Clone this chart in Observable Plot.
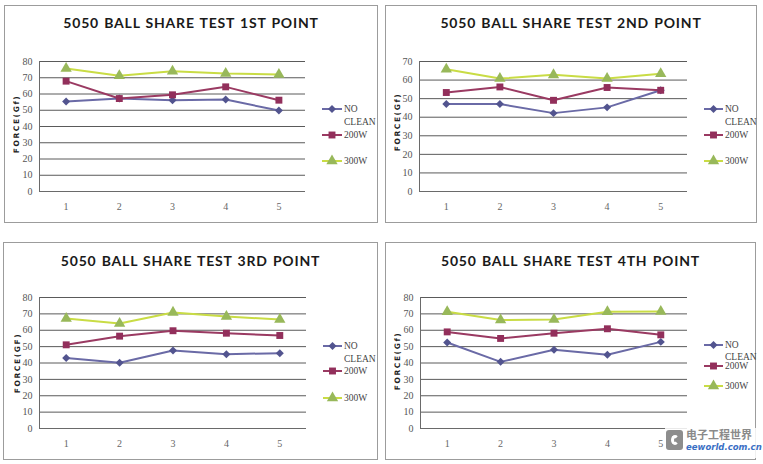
<!DOCTYPE html>
<html><head><meta charset="utf-8">
<script src="https://cdn.jsdelivr.net/npm/d3@7"></script>
<script src="https://cdn.jsdelivr.net/npm/@observablehq/plot@0.6"></script>
<style>
body{margin:0;background:#fff;}
#root{position:relative;width:763px;height:464px;background:#fff;overflow:hidden;}
.panel{position:absolute;border:1px solid #9c9c9c;box-sizing:border-box;background:#fff;}
.title{position:absolute;left:0;right:0;text-align:center;font:700 14px "Lato",sans-serif;letter-spacing:0.8px;word-spacing:1px;color:#1a1a1a;white-space:nowrap;}
.ylab{position:absolute;font:700 7.5px "DejaVu Sans",sans-serif;letter-spacing:1.6px;color:#222;transform:translate(-50%,-50%) rotate(-90deg);white-space:nowrap;}
.leg{position:absolute;font:9.5px "Liberation Serif",serif;color:#444;line-height:10px;white-space:nowrap;}
.panel svg{position:absolute;left:0;top:0;}
.panel svg text{font-family:"Liberation Serif",serif;}
</style></head>
<body><div id="root"></div>
<script>
const points = [1, 2, 3, 4, 5];
const seriesNames = ["NO CLEAN", "200W", "300W"];
const titles = ["5050 BALL SHARE TEST 1ST POINT", "5050 BALL SHARE TEST 2ND POINT", "5050 BALL SHARE TEST 3RD POINT", "5050 BALL SHARE TEST 4TH POINT"];
const yLabels = ["FORCE(Gf)", "FORCE(Gf)", "FORCE(GF)", "FORCE(Gf)"];
const yMaxes = [80, 70, 80, 80];

const p1NoClean = [55.4, 57.2, 56.2, 56.6, 49.8];
const p1W200 = [67.9, 57.2, 59.5, 64.4, 56.2];
const p1W300 = [75.7, 71.2, 74.0, 72.6, 72.0];

const p2NoClean = [47.1, 47.1, 42.2, 45.3, 54.5];
const p2W200 = [53.3, 56.3, 49.1, 56.0, 54.5];
const p2W300 = [65.8, 60.8, 62.8, 60.8, 63.4];

const p3NoClean = [43.0, 40.1, 47.6, 45.4, 46.0];
const p3W200 = [51.1, 56.4, 59.7, 58.2, 56.8];
const p3W300 = [67.2, 64.1, 70.9, 68.4, 66.6];

const p4NoClean = [52.5, 40.7, 48.1, 45.0, 52.9];
const p4W200 = [59.0, 55.0, 58.2, 60.9, 57.2];
const p4W300 = [71.3, 66.2, 66.6, 71.3, 71.5];

const seriesStyle = [
  {line: "#6a6aa6", fill: "#52548f", symbol: "diamond2", r: 3.6},
  {line: "#9a3a62", fill: "#922f5b", symbol: "square", r: 3.9},
  {line: "#c9dc45", fill: "#98b85a", symbol: "triangle", r: 4.2}
];

const panelData = [
  [p1NoClean, p1W200, p1W300],
  [p2NoClean, p2W200, p2W300],
  [p3NoClean, p3W200, p3W300],
  [p4NoClean, p4W200, p4W300]
];

// layout (page pixels)
const layouts = [
  {left: 4, top: 5, w: 374, h: 218, px0: 39, px1: 305, py0: 61, py1: 191, titleY: 8, ylabX: 11, ylabY: 118,
   leg: {lx0: 322, lx1: 342, tx: 344, y: [109, 122, 135, 161]}},
  {left: 385, top: 5, w: 372, h: 218, px0: 419, px1: 687, py0: 61, py1: 191, titleY: 8, ylabX: 11, ylabY: 116,
   leg: {lx0: 704, lx1: 723, tx: 725, y: [109, 122, 135, 161]}},
  {left: 3, top: 242, w: 375, h: 218, px0: 39, px1: 306, py0: 297, py1: 428, titleY: 9, ylabX: 13, ylabY: 120,
   leg: {lx0: 323, lx1: 342, tx: 344, y: [346, 359, 371, 398]}},
  {left: 385, top: 242, w: 371, h: 218, px0: 420, px1: 687, py0: 297, py1: 428, titleY: 9, ylabX: 11, ylabY: 118,
   leg: {lx0: 704, lx1: 723, tx: 725, y: [345, 357, 366, 386]}}
];

const root = document.getElementById("root");

layouts.forEach((L, i) => {
  const panel = document.createElement("div");
  panel.className = "panel";
  Object.assign(panel.style, {left: L.left + "px", top: L.top + "px", width: L.w + "px", height: L.h + "px"});
  root.appendChild(panel);

  const ox = L.left + 1, oy = L.top + 1;
  const innerW = L.w - 2, innerH = L.h - 2;
  const rows = [];
  panelData[i].forEach((vals, s) => vals.forEach((v, k) => rows.push({x: points[k], y: v, s: seriesNames[s]})));
  const yMax = yMaxes[i];

  const marks = [
    Plot.gridY(d3.range(10, yMax + 1, 10), {stroke: "#5a5a5a", strokeOpacity: 1, strokeWidth: 1}),
    Plot.ruleY([0], {stroke: "#6a6a6a"}),
    Plot.ruleX([0.5], {stroke: "#6a6a6a"}),
    Plot.axisY(d3.range(0, yMax + 1, 10), {tickSize: 0, tickPadding: 7, fontFamily: "Liberation Serif", fontSize: 10, fill: "#555", label: null}),
    Plot.axisX(points, {tickSize: 0, tickPadding: 11, fontFamily: "Liberation Serif", fontSize: 10, fill: "#666", label: null})
  ];
  seriesNames.forEach((name, s) => {
    const st = seriesStyle[s];
    const d = rows.filter(r => r.s === name);
    marks.push(Plot.line(d, {x: "x", y: "y", stroke: st.line, strokeWidth: 2}));
  });
  seriesNames.forEach((name, s) => {
    const st = seriesStyle[s];
    const d = rows.filter(r => r.s === name);
    marks.push(Plot.dot(d, {x: "x", y: "y", symbol: () => st.symbol, fill: st.fill, stroke: "none", r: st.r}));
  });

  const chart = Plot.plot({
    width: innerW, height: innerH,
    marginLeft: L.px0 - ox, marginRight: ox + innerW - L.px1,
    marginTop: L.py0 - oy, marginBottom: oy + innerH - L.py1,
    x: {domain: [0.5, 5.5], axis: null},
    y: {domain: [0, yMax], axis: null},
    symbol: {type: "identity"},
    style: {background: "transparent", overflow: "visible"},
    marks
  });
  panel.appendChild(chart);

  const t = document.createElement("div");
  t.className = "title";
  t.style.top = L.titleY + "px";
  t.textContent = titles[i];
  panel.appendChild(t);

  const yl = document.createElement("div");
  yl.className = "ylab";
  yl.style.left = L.ylabX + "px";
  yl.style.top = L.ylabY + "px";
  yl.textContent = yLabels[i];
  panel.appendChild(yl);

  // legend
  const g = L.leg;
  const legSvg = d3.create("svg").attr("width", 30).attr("height", innerH)
    .style("left", (g.lx0 - ox) + "px").style("top", "0px").style("overflow", "visible");
  const legRows = [g.y[0], g.y[2], g.y[3]];
  seriesNames.forEach((name, s) => {
    const st = seriesStyle[s];
    const yy = legRows[s] - oy;
    legSvg.append("line").attr("x1", 0).attr("x2", g.lx1 - g.lx0).attr("y1", yy).attr("y2", yy)
      .attr("stroke", st.line).attr("stroke-width", 2);
    const sym = {diamond2: d3.symbolDiamond2, square: d3.symbolSquare, triangle: d3.symbolTriangle}[st.symbol];
    legSvg.append("path").attr("d", d3.symbol(sym, Math.PI * st.r * st.r)())
      .attr("transform", `translate(${(g.lx1 - g.lx0) / 2},${yy})`).attr("fill", st.fill);
  });
  panel.appendChild(legSvg.node());
  const legTexts = ["NO", "CLEAN", "200W", "300W"];
  legTexts.forEach((txt, k) => {
    const d = document.createElement("div");
    d.className = "leg";
    d.style.left = (g.tx - ox) + "px";
    d.style.top = (g.y[k] - oy - 5) + "px";
    d.textContent = txt;
    panel.appendChild(d);
  });
});

// watermark in the bottom-right corner
const wm = document.createElement("div");
wm.style.cssText = "position:absolute;left:665px;top:428px;width:96px;height:30px;background:rgba(255,255,255,0.85);white-space:nowrap;";
wm.innerHTML = '<div style="position:absolute;left:1px;top:2px;width:17px;height:20px;background:#8d8d8d;border-radius:3px;"></div>' +
  '<div style="position:absolute;left:6px;top:7px;width:8px;height:10px;border:3px solid #fff;border-right-color:transparent;border-radius:50%;box-sizing:border-box;"></div>' +
  '<div style="position:absolute;left:21px;top:0px;font:700 11px \'Noto Sans CJK SC\',sans-serif;line-height:13px;color:#8a8a8a;white-space:nowrap;">电子工程世界</div>' +
  '<div style="position:absolute;left:21px;top:14px;font:italic 700 8.5px \'DejaVu Sans\',sans-serif;line-height:10px;color:#3a6fc4;white-space:nowrap;">eeworld.com.cn</div>';
root.appendChild(wm);
</script>
</body></html>
